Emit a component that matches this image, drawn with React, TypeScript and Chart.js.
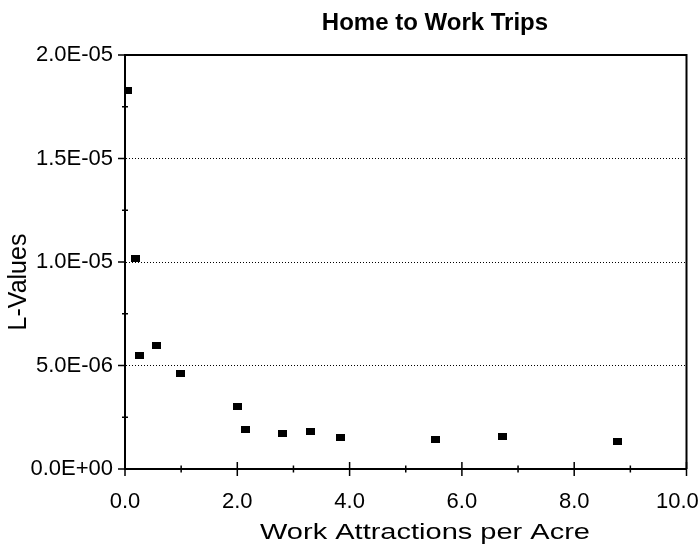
import React, { useEffect, useRef } from "react";
import { Chart, registerables } from "chart.js";

Chart.register(...registerables);

// ---- data ----
const xValues = [0.05, 0.18, 0.26, 0.56, 0.99, 2.01, 2.14, 2.8, 3.31, 3.84, 5.53, 6.73, 8.77];
const lValues = [
  1.828e-5, 1.018e-5, 5.46e-6, 5.99e-6, 4.6e-6, 3.03e-6, 1.9e-6, 1.71e-6, 1.82e-6, 1.53e-6,
  1.43e-6, 1.59e-6, 1.32e-6,
];
const xTickLabels = ["0.0", "2.0", "4.0", "6.0", "8.0", "10.0\u00A0\u00A0\u00A0"];
const yTickLabels = ["0.0E+00", "5.0E-06", "1.0E-05", "1.5E-05", "2.0E-05"];
const xMinorTicks = [1, 3, 5, 7, 9];
const yMinorTicks = [2.5e-6, 7.5e-6, 1.25e-5, 1.75e-5];
const chartTitle = "Home to Work Trips";
const xTitle = "Work Attractions per Acre";
const yTitle = "L-Values";

const FONT = "'Liberation Sans', Arial, Helvetica, sans-serif";

function makeMarker(): HTMLCanvasElement {
  const c = document.createElement("canvas");
  c.width = 9;
  c.height = 7;
  const g = c.getContext("2d")!;
  g.fillStyle = "#000";
  g.fillRect(0, 0, 9, 7);
  return c;
}

const framePlugin = {
  id: "frameAndTitles",
  afterDraw(chart: any) {
    const { ctx, chartArea, scales } = chart;
    const { left, right, top, bottom } = chartArea;
    const xs = scales.x;
    const ys = scales.y;
    ctx.save();
    ctx.strokeStyle = "#000";
    ctx.setLineDash([]);
    // top & right frame
    ctx.lineWidth = 2;
    ctx.beginPath();
    ctx.moveTo(left, top);
    ctx.lineTo(right, top);
    ctx.lineTo(right, bottom);
    ctx.stroke();
    // x ticks
    ctx.lineWidth = 1.5;
    ctx.beginPath();
    xs.ticks.forEach((t: any) => {
      const p = xs.getPixelForValue(t.value);
      ctx.moveTo(p, bottom - 7);
      ctx.lineTo(p, bottom + 7);
    });
    xMinorTicks.forEach((v) => {
      const p = xs.getPixelForValue(v);
      ctx.moveTo(p, bottom - 3.5);
      ctx.lineTo(p, bottom + 3.5);
    });
    // y ticks
    ys.ticks.forEach((t: any) => {
      const p = ys.getPixelForValue(t.value);
      ctx.moveTo(left - 7, p);
      ctx.lineTo(left, p);
    });
    yMinorTicks.forEach((v) => {
      const p = ys.getPixelForValue(v);
      ctx.moveTo(left - 3, p);
      ctx.lineTo(left + 3, p);
    });
    ctx.stroke();

    // titles
    ctx.fillStyle = "#000";
    ctx.font = `bold 24px ${FONT}`;
    ctx.textAlign = "center";
    ctx.textBaseline = "alphabetic";
    ctx.fillText(chartTitle, 435, 30);

    ctx.font = `22px ${FONT}`;
    const w = ctx.measureText(xTitle).width;
    ctx.save();
    ctx.translate(425, 539);
    ctx.scale(330 / w, 1);
    ctx.fillText(xTitle, 0, 0);
    ctx.restore();

    ctx.save();
    ctx.font = `25px ${FONT}`;
    ctx.translate(19, 282);
    ctx.rotate(-Math.PI / 2);
    ctx.textBaseline = "middle";
    ctx.fillText(yTitle, 0, 0);
    ctx.restore();

    ctx.restore();
  },
};

export default function App() {
  const ref = useRef<HTMLCanvasElement | null>(null);

  useEffect(() => {
    if (!ref.current) return;
    const marker = makeMarker();
    const chart = new Chart(ref.current, {
      type: "scatter",
      data: {
        datasets: [
          {
            data: xValues.map((x, i) => ({ x, y: lValues[i] })),
            pointStyle: marker as any,
            backgroundColor: "#000",
            borderColor: "#000",
            showLine: false,
          },
        ],
      },
      options: {
        responsive: false,
        animation: false,
        devicePixelRatio: 1,
        layout: { padding: { top: 55, right: 13.5, left: 0, bottom: 0 } },
        plugins: {
          legend: { display: false },
          title: { display: false },
          tooltip: { enabled: false },
        },
        scales: {
          x: {
            type: "linear",
            min: 0,
            max: 10,
            afterFit: (s: any) => {
              s.height = 79;
              s.paddingLeft = 0;
              s.paddingRight = 0;
            },
            grid: { display: false, drawTicks: false, tickLength: 0 },
            border: { display: true, color: "#000", width: 2 },
            ticks: {
              stepSize: 2,
              padding: 20,
              color: "#000",
              font: { family: FONT, size: 22 },
              maxRotation: 0,
              callback: (_v: any, i: number) => xTickLabels[i] ?? "",
            },
          },
          y: {
            type: "linear",
            min: 0,
            max: 2e-5,
            afterFit: (s: any) => {
              s.width = 125;
              s.paddingTop = 0;
              s.paddingBottom = 0;
            },
            grid: {
              display: true,
              drawTicks: false,
              tickLength: 0,
              lineWidth: 1,
              color: (c: any) => {
                const v = c.tick ? c.tick.value : 0;
                return v <= 1e-12 || v >= 2e-5 - 1e-12 ? "rgba(0,0,0,0)" : "#000";
              },
            },
            border: { display: true, color: "#000", width: 2, dash: [1, 2] },
            ticks: {
              stepSize: 5e-6,
              padding: 12,
              color: "#000",
              font: { family: FONT, size: 22 },
              callback: (_v: any, i: number) => yTickLabels[i] ?? "",
            },
          },
        },
      },
      plugins: [framePlugin],
    });
    return () => chart.destroy();
  }, []);

  return (
    <div
      style={{
        position: "absolute",
        left: 0,
        top: 0,
        width: 700,
        height: 548,
        background: "#fff",
      }}
    >
      <canvas ref={ref} width={700} height={548} style={{ display: "block" }} />
    </div>
  );
}
